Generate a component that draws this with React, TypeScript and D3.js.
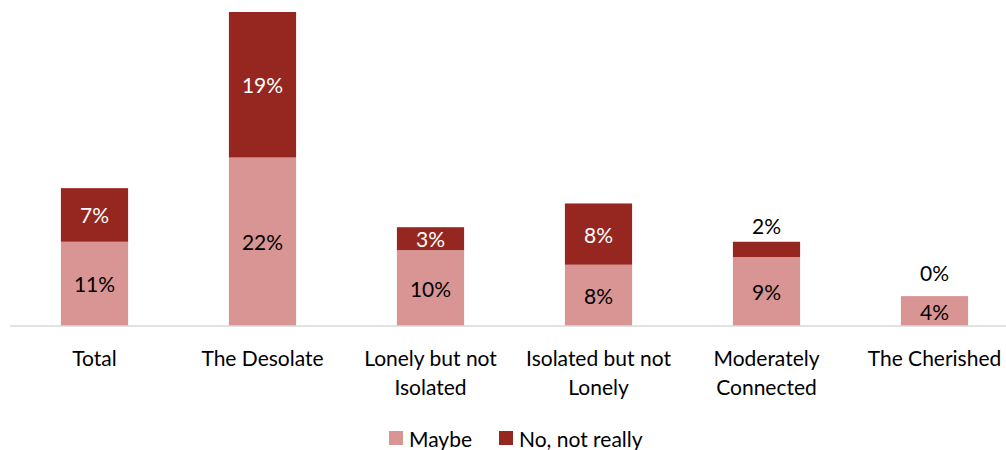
import React from "react";
import * as d3 from "d3";

const categories: string[][] = [
  ["Total"],
  ["The Desolate"],
  ["Lonely but not", "Isolated"],
  ["Isolated but not", "Lonely"],
  ["Moderately", "Connected"],
  ["The Cherished"],
];
const maybeValues = [11, 22, 9.9, 8, 9, 3.9];
const noValues = [7, 19, 3, 8, 2, 0];
const seriesNames = ["Maybe", "No, not really"];
const colors = ["#d99594", "#952720"];

const W = 1006;
const H = 450;
const FONT = "Lato, 'Open Sans', sans-serif";

export default function App() {
  const idx = categories.map((_, i) => String(i));
  const x = d3
    .scaleBand<string>()
    .domain(idx)
    .range([10.5, 1018.5])
    .paddingInner(0.6)
    .paddingOuter(0.3);
  const y = d3.scaleLinear().domain([0, 41]).range([326, 12]);

  const rows = categories.map((_, i) => ({ i: String(i), maybe: maybeValues[i], no: noValues[i] }));
  const stack = d3.stack<any>().keys(["maybe", "no"])(rows);

  const bw = x.bandwidth();

  return (
    <svg width={W} height={H} style={{ position: "absolute", left: 0, top: 0, fontFamily: FONT }}>
      {stack.map((layer, si) =>
        layer.map((d, ci) => {
          const x0 = x(String(ci))!;
          const yTop = y(d[1]);
          const yBot = y(d[0]);
          return (
            <rect key={`${si}-${ci}`} x={x0} y={yTop} width={bw} height={Math.max(0, yBot - yTop)} fill={colors[si]} />
          );
        })
      )}
      <line x1={10} x2={W} y1={326} y2={326} stroke="#d9d9d9" strokeWidth={1.5} />
      {stack.map((layer, si) =>
        layer.map((d, ci) => {
          const v = d[1] - d[0];
          const cx = x(String(ci))! + bw / 2;
          const mid = (y(d[0]) + y(d[1])) / 2;
          const outside = v < 2.5;
          const ly = outside ? mid - 24 : mid;
          const fill = outside ? "#000" : si === 1 ? "#fff" : "#000";
          return (
            <text key={`l-${si}-${ci}`} x={cx} y={ly} textAnchor="middle" dominantBaseline="central" fontSize={21} fill={fill}>
              {Math.round(v)}%
            </text>
          );
        })
      )}
      {categories.map((lines, ci) => {
        const cx = x(String(ci))! + bw / 2;
        return (
          <text key={`c-${ci}`} x={cx} y={357} textAnchor="middle" fontSize={21} fill="#000" dominantBaseline="central">
            {lines.map((ln, li) => (
              <tspan key={li} x={cx} dy={li === 0 ? 0 : 29}>
                {ln}
              </tspan>
            ))}
          </text>
        );
      })}
      <g>
        <rect x={389} y={431} width={14} height={14} fill={colors[0]} />
        <text x={409} y={438} fontSize={21} dominantBaseline="central" fill="#000">{seriesNames[0]}</text>
        <rect x={499} y={431} width={14} height={14} fill={colors[1]} />
        <text x={519} y={438} fontSize={21} dominantBaseline="central" fill="#000">{seriesNames[1]}</text>
      </g>
    </svg>
  );
}
